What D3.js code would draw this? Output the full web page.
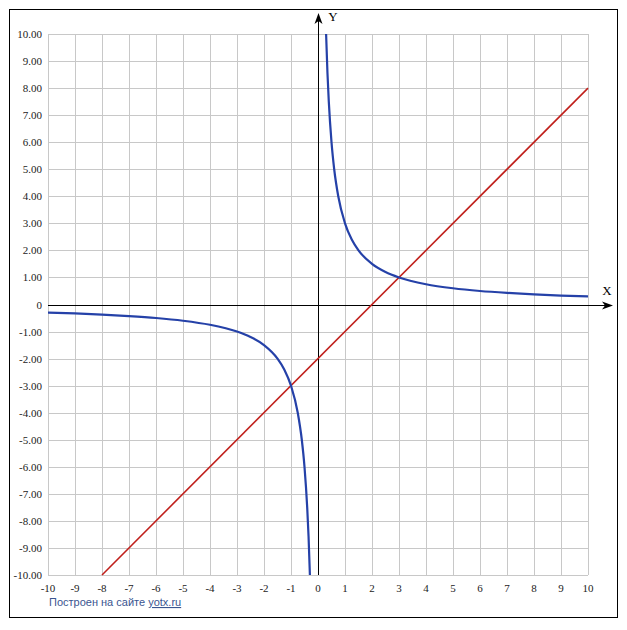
<!DOCTYPE html>
<html><head><meta charset="utf-8">
<script src="https://cdn.jsdelivr.net/npm/d3@7"></script>
<style>body{margin:0;background:#fff}svg{display:block}
.tk{font-family:"Liberation Serif","Times New Roman",serif;font-size:11px;fill:#222}
.ax{font-family:"Liberation Serif","Times New Roman",serif;font-size:13px;fill:#000}
.ft{font-family:"Liberation Sans",Arial,sans-serif;font-size:11px;fill:#3a5590}
</style>
</head><body>
<script>
// Data
const xTicks = [-10,-9,-8,-7,-6,-5,-4,-3,-2,-1,0,1,2,3,4,5,6,7,8,9,10];
const yTicks = [-10,-9,-8,-7,-6,-5,-4,-3,-2,-1,0,1,2,3,4,5,6,7,8,9,10];
const hypPosX = [0.3,0.35,0.4,0.5,0.6,0.75,1,1.25,1.5,2,2.5,3,4,5,6,7,8,9,10];
const hypPosY = [10,8.57,7.5,6,5,4,3,2.4,2,1.5,1.2,1,0.75,0.6,0.5,0.43,0.375,0.33,0.3];
const hypNegX = [-10,-9,-8,-7,-6,-5,-4,-3,-2.5,-2,-1.5,-1.25,-1,-0.75,-0.6,-0.5,-0.4,-0.35,-0.3];
const hypNegY = [-0.3,-0.33,-0.375,-0.43,-0.5,-0.6,-0.75,-1,-1.2,-1.5,-2,-2.4,-3,-4,-5,-6,-7.5,-8.57,-10];
const lineX = [-8,10];
const lineY = [-10,8];

const W=627,H=630;
const svg=d3.select("body").append("svg").attr("width",W).attr("height",H);
const x=d3.scaleLinear().domain([-10,10]).range([48,588]);
const y=d3.scaleLinear().domain([-10,10]).range([575,34]);

svg.append("rect").attr("x",9.5).attr("y",9.5).attr("width",608).attr("height",608)
  .attr("fill","#fff").attr("stroke","#000").attr("stroke-width",1);

// grid
const g=svg.append("g");
g.selectAll(".gx").data(xTicks).join("line")
  .attr("x1",d=>Math.round(x(d))+0.5).attr("x2",d=>Math.round(x(d))+0.5)
  .attr("y1",y(10)).attr("y2",y(-10)).attr("stroke","#c8c8c8");
g.selectAll(".gy").data(yTicks).join("line")
  .attr("y1",d=>Math.round(y(d))+0.5).attr("y2",d=>Math.round(y(d))+0.5)
  .attr("x1",x(-10)).attr("x2",x(10)).attr("stroke","#c8c8c8");

// tick labels
const fmtY=d=>d===0?"0":d.toFixed(2);
svg.append("g").selectAll("text").data(yTicks).join("text").attr("class","tk")
  .attr("x",42).attr("y",d=>y(d)+4).attr("text-anchor","end")
  .text(fmtY);
svg.append("g").selectAll("text").data(xTicks).join("text").attr("class","tk")
  .attr("x",d=>x(d)).attr("y",592).attr("text-anchor","middle")
  .text(d=>d);

// axes
const ox=Math.round(x(0))+0.5, oy=Math.round(y(0))+0.5;
svg.append("line").attr("x1",x(-10)).attr("x2",606).attr("y1",oy).attr("y2",oy).attr("stroke","#000");
svg.append("line").attr("x1",ox).attr("x2",ox).attr("y1",y(-10)).attr("y2",21).attr("stroke","#000");
svg.append("path").attr("d",`M613,${oy} L602,${oy-4} L605,${oy} L602,${oy+4} Z`).attr("fill","#000");
svg.append("path").attr("d",`M${ox},13 L${ox-4},24 L${ox},21 L${ox+4},24 Z`).attr("fill","#000");
svg.append("text").attr("class","ax").attr("x",607).attr("y",295).attr("text-anchor","middle").text("X");
svg.append("text").attr("class","ax").attr("x",333).attr("y",21).attr("text-anchor","middle").text("Y");

// series
const line=d3.line().x(d=>x(d[0])).y(d=>y(d[1])).curve(d3.curveMonotoneX);
svg.append("path").datum(d3.zip(lineX,lineY)).attr("d",line)
  .attr("fill","none").attr("stroke","#c0201c").attr("stroke-width",1.6);
svg.append("path").datum(d3.zip(hypPosX,hypPosY)).attr("d",line)
  .attr("fill","none").attr("stroke","#2541a8").attr("stroke-width",2.2);
svg.append("path").datum(d3.zip(hypNegX,hypNegY)).attr("d",line)
  .attr("fill","none").attr("stroke","#2541a8").attr("stroke-width",2.2);

// footer
const ft=svg.append("text").attr("class","ft").attr("x",49).attr("y",606);
ft.append("tspan").text("Построен на сайте ");
ft.append("tspan").attr("text-decoration","underline").text("yotx.ru");
</script>
</body></html>
